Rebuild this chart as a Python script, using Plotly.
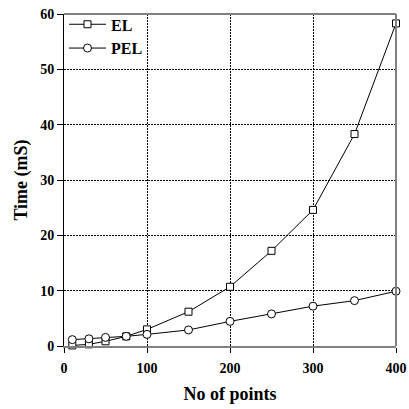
import plotly.graph_objects as go

x_points = [10, 30, 50, 75, 100, 150, 200, 250, 300, 350, 400]
el_time = [0.1, 0.3, 0.85, 1.75, 3.0, 6.2, 10.7, 17.2, 24.6, 38.3, 58.3]
pel_time = [1.15, 1.3, 1.55, 1.75, 2.1, 2.9, 4.45, 5.8, 7.2, 8.2, 9.9]
x_ticks = [0, 100, 200, 300, 400]
y_ticks = [0, 10, 20, 30, 40, 50, 60]

FONT = "Liberation Serif"

fig = go.Figure()
fig.add_trace(go.Scatter(
    x=x_points, y=el_time, name="EL", mode="lines+markers",
    line=dict(color="black", width=1),
    marker=dict(symbol="square", size=7, color="white", line=dict(color="black", width=1)),
    cliponaxis=False,
))
fig.add_trace(go.Scatter(
    x=x_points, y=pel_time, name="PEL", mode="lines+markers",
    line=dict(color="black", width=1),
    marker=dict(symbol="circle", size=8, color="white", line=dict(color="black", width=1)),
    cliponaxis=False,
))

fig.update_layout(
    width=409, height=409,
    margin=dict(l=64, r=13, t=14, b=63, autoexpand=False),
    paper_bgcolor="white", plot_bgcolor="white",
    font=dict(family=FONT, color="black", size=14, weight="bold"),
    showlegend=True,
    legend=dict(x=0, y=1.02, xanchor="left", yanchor="top", bgcolor="rgba(0,0,0,0)",
                font=dict(family=FONT, size=16, weight="bold"), tracegroupgap=0,
                itemwidth=37),
    xaxis=dict(
        range=[0, 400], tickvals=x_ticks, ticktext=[str(v) for v in x_ticks],
        showgrid=True, gridcolor="black", griddash="2px,1px", gridwidth=1,
        showline=True, linecolor="#808080", linewidth=2,
        ticks="outside", ticklen=5, tickcolor="black", tickwidth=1,
        ticklabelstandoff=3, automargin=False,
        zeroline=False,
        title=dict(text="No of points", font=dict(family=FONT, size=18, weight="bold"), standoff=13),
    ),
    yaxis=dict(
        range=[0, 60], tickvals=y_ticks, ticktext=[str(v) for v in y_ticks],
        showgrid=True, gridcolor="black", griddash="2px,1px", gridwidth=1,
        showline=True, linecolor="black", linewidth=1,
        ticks="outside", ticklen=6, tickcolor="black", tickwidth=1,
        automargin=False,
        zeroline=False,
        title=dict(text="Time (mS)", font=dict(family=FONT, size=18, weight="bold"), standoff=7),
    ),
    shapes=[
        dict(type="line", xref="paper", yref="paper", x0=0, x1=1, y0=1, y1=1,
             line=dict(color="#808080", width=2)),
        dict(type="line", xref="paper", yref="paper", x0=1, x1=1, y0=0, y1=1,
             line=dict(color="#808080", width=2)),
    ],
)

fig.write_html("out.html")
